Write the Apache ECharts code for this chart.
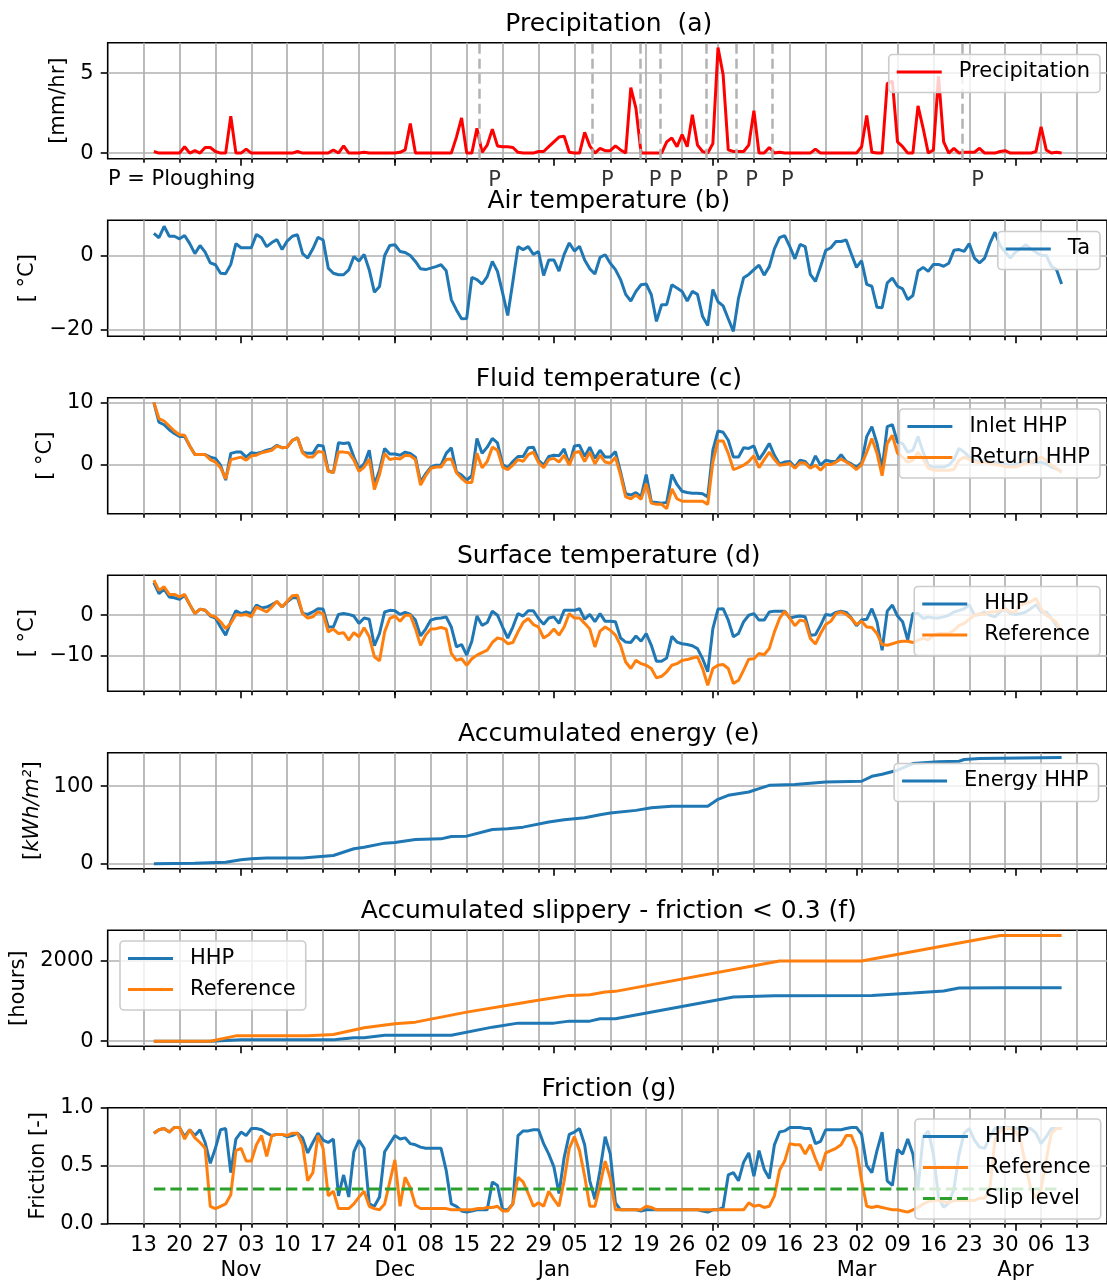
<!DOCTYPE html>
<html><head><meta charset="utf-8">
<script src="https://cdn.jsdelivr.net/npm/echarts@6/dist/echarts.min.js"></script>
<style>html,body{margin:0;padding:0;background:#fff}#c{width:1107px;height:1282px}</style>
</head><body><div id="c"></div>
<script>
// day 0 = Oct 13; daily series start on day 2 (Oct 15)
const FIRST_DAY = 2;
const weekLabels = ['13','20','27','03','10','17','24','01','08','15','22','29','05','12','19','26','02','09','16','23','02','09','16','23','30','06','13'];
const monthDays = [19,49,80,111,139,170];
const monthLabels = ['Nov','Dec','Jan','Feb','Mar','Apr'];
const ploughDays = [65.5,87.5,96.8,100.8,109.8,115.6,122.6,159.7];

const precipitation = [
0.1,0,0,0,0,0,0.4,0,0.15,0,
0.35,0.35,0.1,0,0,2.3,0,0,0.25,0,
0,0,0,0,0,0,0,0,0.1,0,
0,0,0,0,0,0.2,0,0.45,0,0,
0,0.05,0,0,0,0,0,0,0.05,0.2,
1.85,0,0,0,0,0,0,0,0,1.0,
2.2,0,0,1.55,0.05,0.5,1.5,0.45,0.4,0.4,
0.35,0.05,0,0,0,0.1,0.1,0.4,0.7,1.0,
1.05,0.05,0,0,1.3,0.45,0,0.3,0.15,0.15,
0.45,0.2,0,4.1,2.8,0,0,0,0,0,
0.7,0.95,0.4,1.15,0.4,2.4,0.5,0.1,0,0.6,
6.6,4.9,0.2,0.1,0.1,0.1,0.5,2.65,0,0,
0.35,0,0.05,0,0,0,0,0,0,0.25,
0,0,0,0,0,0,0,0,0.4,2.35,
0.05,0,0,4.35,4.5,0.7,0.4,0,0,2.95,
1.55,0,0.2,4.8,0.7,0,0.3,0,0.05,0.05,
0.05,0.3,0,0,0,0.1,0.15,0,0,0,
0,0,0.1,1.65,0.2,0,0.05,0];

const airTemp = [
6.0,4.8,7.9,5.2,5.2,4.5,5.4,3.2,0.5,2.7,
0.9,-2.0,-2.5,-4.8,-4.9,-2.4,3.2,2.1,2.1,2.1,
5.7,4.8,2.4,3.5,4.3,1.6,3.9,5.2,5.6,0.5,
-0.7,1.8,4.9,4.2,-3.4,-4.8,-5.2,-5.2,-3.9,-0.3,
-1.5,0.3,-3.9,-9.9,-8.4,0,2.7,2.9,1.1,0.8,
0,-1.6,-3.6,-3.8,-3.4,-3.0,-2.5,-4.1,-11.9,-14.7,
-17.1,-17.0,-5.9,-6.5,-7.7,-5.7,-1.6,-4.3,-10.1,-16.2,
-7.1,2.4,1.6,2.4,0.3,1.1,-5.4,-1.2,-1.2,-4.2,
0.3,3.4,1.2,2.5,-1.2,-3.6,-5.0,-0.5,0.2,-2.1,
-3.8,-6.5,-10.5,-12.3,-9.7,-7.9,-7.7,-10.6,-17.8,-13.3,
-13.3,-7.9,-8.8,-9.7,-12.3,-9.7,-10.5,-16.5,-18.9,-9.2,
-12.5,-13.6,-17.1,-20.5,-11.5,-6.0,-5.1,-3.8,-2.6,-5.3,
-3.0,1.8,4.8,5.4,2.4,-0.9,3.0,2.4,-5.1,-7.0,
-3.0,1.4,2.1,3.8,3.8,4.2,0.4,-3.2,-1.4,-7.8,
-8.3,-14.0,-14.1,-7.4,-6.1,-8.3,-9.0,-11.9,-10.8,-4.2,
-3.2,-4.3,-2.4,-2.4,-2.9,-2.1,1.4,1.6,1.1,3.2,
-0.7,-2.0,-0.7,3.2,6.3,2.7,0.9,-0.7,0.9,1.8,
2.9,1.8,0.9,0,0,-2.9,-3.8,-7.7];

const fluidInlet = [
10,6.8,6.4,5.6,5.0,4.5,4.5,3.0,1.6,1.6,
1.6,1.2,1.0,-0.1,-2.5,1.8,2.0,2.0,1.2,1.9,
1.8,2.0,2.3,2.5,3.1,2.7,2.8,3.9,4.3,2.0,
1.8,1.8,3.1,3.0,-1.0,-1.3,3.5,3.4,3.5,1.2,
-0.7,0.1,2.3,-3.3,-0.9,2.6,1.7,1.7,1.5,2.0,
1.8,1.2,-2.8,-1.5,-0.4,-0.1,-0.1,1.8,2.7,-1.2,
-1.7,-2.5,-1.8,4.2,1.8,2.8,4.2,3.5,0,-0.5,
0.5,1.3,1.3,2.7,2.8,0.7,-0.1,1.3,1.5,1.4,
2.5,0,3.0,3.1,1.3,2.8,1.0,2.3,1.2,1.2,
2.1,-1.2,-4.7,-4.9,-4.5,-5.2,-1.6,-6.0,-6.1,-6.2,
-6.1,-1.6,-3.2,-4.3,-4.5,-4.6,-4.6,-4.7,-5.2,2.3,
5.4,5.2,3.9,1.2,1.2,2.7,2.6,3.0,0.8,2.0,
3.4,1.5,0.1,0.4,0.5,-0.4,0.7,0.5,-0.5,1.4,
-0.1,0.7,0.5,0.5,1.6,0.5,0.1,-0.4,0.3,4.5,
6.1,3.4,-0.7,6.1,6.4,3.6,3.4,2.0,2.3,4.5,
2.0,-0.1,-0.4,-0.4,-0.4,-0.1,0.8,2.6,2.0,1.2,
0.7,0.4,0.9,0.3,0.4,0.1,0,-0.1,0,0.3,
0.7,0.4,0.3,0.4,0.1,-0.4,-0.7,-1.1];

const fluidReturn = [
10,7.4,7.0,6.2,5.4,4.8,4.7,3.0,1.6,1.6,
1.6,0.8,0.4,-0.5,-2.3,0.8,1.0,1.2,0.7,1.4,
1.5,1.9,2.1,2.3,3.0,2.7,2.8,3.9,4.3,1.9,
1.2,1.2,2.1,2.0,-1.1,-1.3,2.0,2.0,1.9,0.7,
-1.1,-0.4,0.9,-4.0,-1.6,1.8,0.8,1.0,0.9,1.5,
1.4,0.8,-3.3,-1.8,-0.6,-0.4,-0.4,0.8,0.9,-1.3,
-2.2,-2.9,-2.9,1.8,-0.5,0.5,2.8,2.3,-0.4,-0.8,
-0.1,0.8,0.5,1.6,2.0,0.3,-0.5,0.8,1.0,0.4,
1.5,-0.1,1.9,2.1,0.5,2.0,0.1,1.5,0.4,0.2,
1.2,-1.7,-5.2,-5.5,-4.9,-5.6,-3.1,-6.2,-6.4,-6.4,
-7.1,-3.9,-5.5,-5.9,-5.9,-5.9,-5.9,-5.9,-6.4,0.4,
3.8,3.8,1.8,-0.8,-0.5,-0.1,0.5,1.4,-0.5,0.8,
2.0,0.8,-0.1,0,0.2,-0.6,0.3,0.2,-0.6,-0.1,
-0.9,0,0,0.4,0.9,0.4,-0.1,-0.8,0,2.0,
4.2,1.8,-1.8,3.4,4.7,1.8,1.2,0.4,0.7,2.0,
0.9,-0.6,-0.9,-0.9,-0.9,-0.9,-0.8,0.7,1.2,0.8,
0.5,0.3,0.4,0.2,0,-0.1,-0.3,-0.4,-0.4,-0.1,
0.2,0.3,0.8,1.2,0.7,-0.1,-0.6,-1.3];

const surfaceHHP = [
8.0,5.3,6.4,4.5,4.3,3.9,4.9,2.6,0.4,1.5,
1.2,-0.2,-0.7,-2.9,-4.9,-1.6,1.1,0.4,0.8,0.4,
2.5,1.8,2.0,2.6,3.3,2.0,3.3,4.3,4.3,0.4,
0.2,0.8,1.6,1.5,-2.9,-2.9,0.2,0.4,0.2,-0.2,
-2.0,-0.7,-1.0,-7.5,-4.5,0.8,1.2,1.1,0.2,0.7,
0.2,-1.2,-5.1,-3.4,-1.2,-0.8,-0.7,-0.4,-2.9,-7.8,
-7.2,-9.8,-6.4,-0.2,-2.5,-1.8,1.0,0,-2.9,-5.6,
-2.9,0.4,-0.2,1.1,1.1,-0.8,-2.2,-0.7,-0.4,-2.0,
1.2,1.2,1.2,1.6,-1.0,0.2,-1.6,0.4,-1.5,-1.5,
-1.6,-5.6,-6.6,-6.7,-5.1,-6.4,-4.5,-7.4,-11.3,-11.3,
-10.5,-5.2,-6.6,-7.0,-7.2,-7.5,-8.2,-10.7,-13.9,-3.3,
1.5,1.6,-1.2,-5.3,-4.5,-1.6,0,0.4,-1.2,-1.2,
0.8,1.0,1.0,1.0,-0.7,-0.4,-0.2,-0.4,-4.9,-4.8,
-2.5,0.2,0,0.7,1.0,0.7,-0.7,-2.6,-1.2,-1.0,
1.6,-1.6,-8.6,1.0,2.5,-0.2,-1.6,-6.1,0.4,0.4,
-0.8,-0.4,-0.7,-0.7,-0.4,0,0.8,1.2,1.6,2.5,
0,0.2,0.8,0,-0.4,0.8,1.6,0.4,0.2,0.4,
0.8,1.6,2.6,0.8,0.8,-0.8,-2.5,-4.5];

const surfaceRef = [
8.6,6.1,7.0,5.1,5.1,4.5,5.1,2.6,0.4,1.5,
1.2,0,-0.4,-1.6,-3.3,-2.0,0.2,0,0.2,-0.4,
2.0,1.4,0.8,2.0,3.4,2.0,3.4,4.8,4.9,0.4,
-0.7,-0.4,0.8,0.4,-4.1,-3.4,-4.5,-4.3,-6.1,-4.3,
-5.3,-3.1,-5.3,-10.2,-11.2,-4.1,-0.8,-0.2,-1.5,0,
0,-3.3,-7.4,-4.9,-3.4,-3.3,-3.0,-3.4,-9.4,-11.1,
-10.7,-12.3,-10.7,-9.8,-9.2,-8.6,-6.7,-5.6,-5.9,-7.0,
-6.7,-4.1,-1.8,-0.8,-2.3,-2.9,-5.6,-4.8,-3.4,-4.9,
-2.9,0.4,-0.7,-0.7,-2.0,-3.4,-7.8,-3.9,-2.9,-3.7,
-4.9,-7.4,-11.5,-13.1,-11.1,-11.9,-12.3,-13.1,-15.4,-15.0,
-13.9,-12.3,-11.9,-11.1,-10.9,-10.5,-10.2,-13.1,-17.2,-13.1,
-12.3,-12.1,-13.1,-16.8,-16.0,-13.5,-10.8,-10.7,-9.4,-9.7,
-8.2,-4.1,-0.8,1.0,-0.7,-2.6,-1.2,-1.5,-5.7,-7.1,
-4.5,-2.3,-1.5,0.4,0.8,0.2,-0.8,-2.3,-1.5,-2.9,
-3.0,-4.5,-7.2,-7.4,-7.0,-6.6,-6.4,-6.4,-6.7,-6.1,
-5.7,-6.1,-4.9,-4.5,-4.5,-4.5,-3.7,-2.5,-2.0,-1.0,
0,0.4,0.2,0.8,0.8,1.2,1.6,0.8,0.8,2.5,
2.9,3.3,4.1,1.6,0,-0.8,-1.8,-4.1];

const energyDays = [2,10,16,19,21,24,31,37,41,43,47,49,53,58,60,63,68,71,74,79,82,86,89,91,96,99,103,110,112,114,118,120,122,127,133,140,142,144,147,150,155,159,160,163,171,179];
const energyHHP  = [0,0.6,1.9,5,6.3,7.2,7.2,10.6,19.2,21.3,26.5,27.3,31.2,32,35.1,35.5,44.1,45,47.1,53.6,56.6,59.2,63.1,65.2,68.7,72.1,73.9,73.9,82.9,88.1,92.4,96.7,101,101.9,105.3,106.2,112.6,115.2,120.4,129,131.2,132,134.2,135.4,136.3,136.7];

const slipHHPDays = [2,13,19,37,38,41,43,47,60,68,73,80,83,87,89,92,115,123,142,150,156,159,167,179];
const slipHHP     = [0,0,33,33,50,83,83,150,150,350,450,450,500,500,558,558,1100,1133,1142,1200,1250,1325,1333,1333];
const slipRefDays = [2,13,18,32,37,43,49,53,63,74,76,83,87,90,92,124,140,167,179];
const slipRef     = [0,0,133,133,167,333,433,475,725,958,1000,1142,1158,1225,1242,2000,2000,2633,2633];

const frictionHHP = [
0.78,0.81,0.82,0.79,0.83,0.83,0.75,0.81,0.76,0.81,
0.70,0.52,0.65,0.81,0.82,0.44,0.73,0.79,0.76,0.82,
0.82,0.81,0.78,0.76,0.77,0.77,0.75,0.76,0.78,0.74,
0.61,0.70,0.78,0.72,0.70,0.73,0.24,0.42,0.23,0.62,
0.72,0.65,0.17,0.15,0.23,0.62,0.69,0.76,0.73,0.74,
0.69,0.68,0.66,0.65,0.65,0.65,0.65,0.46,0.17,0.15,
0.11,0.10,0.11,0.12,0.12,0.12,0.36,0.33,0.12,0.12,
0.17,0.76,0.80,0.80,0.81,0.81,0.69,0.60,0.49,0.26,
0.57,0.77,0.79,0.82,0.68,0.37,0.21,0.46,0.75,0.60,
0.18,0.12,0.12,0.12,0.12,0.11,0.12,0.12,0.12,0.12,
0.12,0.12,0.12,0.12,0.12,0.12,0.12,0.11,0.10,0.12,
0.12,0.14,0.42,0.44,0.37,0.53,0.61,0.41,0.63,0.47,
0.39,0.68,0.79,0.80,0.83,0.83,0.83,0.82,0.82,0.69,
0.71,0.81,0.81,0.81,0.81,0.82,0.83,0.83,0.77,0.50,
0.44,0.63,0.79,0.37,0.33,0.64,0.60,0.73,0.60,0.31,
0.75,0.80,0.60,0.23,0.14,0.18,0.30,0.60,0.78,0.82,
0.72,0.66,0.65,0.75,0.82,0.83,0.83,0.83,0.82,0.82,
0.82,0.82,0.78,0.69,0.75,0.82,0.82,0.82];

const frictionRef = [
0.78,0.81,0.82,0.79,0.83,0.83,0.73,0.81,0.74,0.70,
0.65,0.15,0.13,0.15,0.17,0.25,0.63,0.65,0.54,0.54,
0.68,0.76,0.58,0.76,0.77,0.77,0.76,0.78,0.78,0.68,
0.37,0.44,0.76,0.65,0.24,0.28,0.13,0.13,0.13,0.17,
0.23,0.28,0.15,0.13,0.12,0.17,0.36,0.55,0.15,0.40,
0.31,0.16,0.13,0.13,0.13,0.13,0.13,0.13,0.12,0.12,
0.12,0.12,0.12,0.13,0.13,0.14,0.14,0.15,0.11,0.11,
0.17,0.40,0.36,0.26,0.15,0.18,0.15,0.28,0.21,0.15,
0.37,0.65,0.75,0.63,0.41,0.15,0.15,0.33,0.54,0.39,
0.12,0.12,0.12,0.12,0.12,0.12,0.15,0.14,0.12,0.12,
0.12,0.12,0.12,0.12,0.12,0.12,0.12,0.12,0.12,0.12,
0.12,0.12,0.12,0.12,0.12,0.12,0.18,0.15,0.16,0.14,
0.15,0.24,0.46,0.54,0.69,0.68,0.68,0.60,0.68,0.56,
0.46,0.61,0.63,0.65,0.68,0.76,0.76,0.65,0.37,0.15,
0.14,0.15,0.14,0.13,0.12,0.12,0.11,0.10,0.12,0.14,
0.17,0.19,0.20,0.20,0.19,0.18,0.20,0.20,0.20,0.20,
0.20,0.22,0.22,0.30,0.72,0.80,0.82,0.82,0.80,0.72,
0.50,0.30,0.22,0.30,0.55,0.78,0.82,0.82];

const SLIP_LEVEL = 0.3;

// y-axis tick values per panel
const yTicksA = [0,5], yTicksB = [-20,0], yTicksC = [0,10], yTicksD = [-10,0], yTicksE = [0,100], yTicksF = [0,2000], yTicksG = [0,0.5,1];

// ---------------- layout / styling ----------------
const FONT = 'DejaVu Sans';
const BLUE = '#1f77b4', ORANGE = '#ff7f0e', GREEN = '#2ca02c', RED = '#ff0000';
const GRID_LEFT = 107.7, GRID_WIDTH = 1002.1, GRID_TOP0 = 42.7, GRID_STEP = 177.5, GRID_H = 116;
const X_MIN = -7, X_MAX = 187.85;
const GRIDC = '#b0b0b0';

const daily = vals => vals.map((v, i) => [FIRST_DAY + i, v]);
const pairs = (ds, vs) => ds.map((d, i) => [d, vs[i]]);
const weekDays = weekLabels.map((_, i) => i * 7);
const minus = s => String(s).replace('-', '\u2212');

const grids = [], xAxes = [], yAxes = [], series = [], legends = [], graphics = [];
const titles = ['Precipitation  (a)','Air temperature (b)','Fluid temperature (c)','Surface temperature (d)','Accumulated energy (e)','Accumulated slippery - friction < 0.3 (f)','Friction (g)'];

for (let i = 0; i < 7; i++) {
  const top = GRID_TOP0 + GRID_STEP * i;
  grids.push({left: GRID_LEFT, top: top, width: GRID_WIDTH, height: GRID_H, show: true, borderColor: '#000', borderWidth: 1.6, backgroundColor: 'transparent'});
  xAxes.push({
    type: 'value', gridIndex: i, position: 'bottom', min: X_MIN, max: X_MAX, interval: 7,
    axisLine: {show: false, onZero: false},
    splitLine: {show: true, lineStyle: {color: GRIDC, width: 1.7}},
    axisTick: {show: true, customValues: weekDays, length: 4, lineStyle: {color: '#000', width: 1.6}},
    axisLabel: {show: i === 6, customValues: weekDays, hideOverlap: false, margin: 11, fontSize: 21, color: '#000', fontFamily: FONT,
      formatter: v => weekLabels[Math.round(v / 7)]}
  });
  xAxes.push({
    type: 'value', gridIndex: i, position: 'bottom', offset: 0, min: X_MIN, max: X_MAX,
    axisLine: {show: false, onZero: false}, splitLine: {show: false},
    axisTick: {show: true, customValues: monthDays, length: 7, lineStyle: {color: '#000', width: 1.6}},
    axisLabel: {show: i === 6, customValues: monthDays, hideOverlap: false, margin: 36, fontSize: 21, color: '#000', fontFamily: FONT,
      formatter: v => monthLabels[monthDays.indexOf(Math.round(v))]}
  });
  graphics.push({type: 'text', x: 608.8, y: top - 18.5, style: {text: titles[i], font: '25px "DejaVu Sans"', fill: '#000', align: 'center', verticalAlign: 'middle'}});
}

function yAx(i, min, max, step, ticks, name, gap, fmt, extra) {
  return Object.assign({
    type: 'value', gridIndex: i, position: 'left', min: min, max: max, minInterval: step, maxInterval: step,
    axisLine: {show: false, onZero: false},
    splitLine: {show: true, lineStyle: {color: GRIDC, width: 1.7}},
    axisTick: {show: true, customValues: ticks, length: 7, lineStyle: {color: '#000', width: 1.6}},
    axisLabel: {customValues: ticks, hideOverlap: false, margin: 14, fontSize: 21, color: '#000', fontFamily: FONT, formatter: fmt || (v => minus(v))},
    name: name, nameLocation: 'middle', nameRotate: 90, nameGap: gap,
    nameTextStyle: {fontSize: 21, color: '#000', fontFamily: FONT}
  }, extra || {});
}
yAxes.push(yAx(0, -0.35, 6.9, 5, yTicksA, '[mm/hr]', 28.5));
yAxes.push(yAx(1, -21.8, 9.54, 20, yTicksB, '[ °C]', 61.5));
yAxes.push(yAx(2, -7.9, 10.75, 10, yTicksC, '[ °C]', 45.5));
yAxes.push(yAx(3, -18.67, 9.83, 10, yTicksD, '[ °C]', 61.5));
yAxes.push(yAx(4, -6.44, 143, 100, yTicksE, '{n|[}{i|kWh/m²}{n|]}', 51.5, null, {
  nameTextStyle: {fontSize: 21, color: '#000', fontFamily: FONT, rich: {n: {fontSize: 21, fontFamily: FONT, color: '#000'}, i: {fontSize: 21, fontFamily: FONT, fontStyle: 'italic', color: '#000'}}}
}));
yAxes.push(yAx(5, -125, 2767, 2000, yTicksF, '[hours]', 67.5));
yAxes.push(yAx(6, 0, 1, 0.5, yTicksG, 'Friction [-]', 51.5, v => v.toFixed(1), {
  splitLine: {show: true, showMinLine: false, showMaxLine: false, lineStyle: {color: GRIDC, width: 1.7}}
}));

function line(name, grid, data, color, extra) {
  return Object.assign({
    type: 'line', name: name, xAxisIndex: grid * 2, yAxisIndex: grid, data: data,
    symbol: 'none', showSymbol: false, lineStyle: {color: color, width: 3}, itemStyle: {color: color},
    z: 3, animation: false
  }, extra || {});
}

series.push(line('Precipitation', 0, daily(precipitation), RED, {
  markLine: {silent: true, symbol: ['none', 'none'], label: {show: false}, animation: false,
    lineStyle: {color: '#b3b3b3', width: 2.5, type: [10, 5]},
    data: ploughDays.map(d => ({xAxis: d}))}
}));
series.push({
  type: 'scatter', xAxisIndex: 0, yAxisIndex: 0, clip: false, silent: true, animation: false,
  data: ploughDays.map(d => [d, -0.35]), symbolSize: 1, itemStyle: {color: 'rgba(0,0,0,0)'},
  label: {show: true, formatter: 'P', position: 'bottom', distance: 11, offset: [15, 0], fontSize: 21, color: '#000', fontFamily: FONT}
});
series.push(line('Ta', 1, daily(airTemp), BLUE));
series.push(line('Inlet HHP', 2, daily(fluidInlet), BLUE));
series.push(line('Return HHP', 2, daily(fluidReturn), ORANGE));
series.push(line('HHP', 3, daily(surfaceHHP), BLUE));
series.push(line('Reference', 3, daily(surfaceRef), ORANGE));
series.push(line('Energy HHP', 4, pairs(energyDays, energyHHP), BLUE));
series.push(line('HHP', 5, pairs(slipHHPDays, slipHHP), BLUE));
series.push(line('Reference', 5, pairs(slipRefDays, slipRef), ORANGE));
series.push(line('HHP', 6, daily(frictionHHP), BLUE));
series.push(line('Reference', 6, daily(frictionRef), ORANGE));
const LAST_DAY = FIRST_DAY + frictionHHP.length - 1;
series.push(line('Slip level', 6, [[FIRST_DAY, SLIP_LEVEL], [LAST_DAY, SLIP_LEVEL]], GREEN, {lineStyle: {color: GREEN, width: 3, type: [11.5, 5]}}));

const DASH_ICON = 'path://M0,0h12v3h-12z M17,0h12v3h-12z M34,0h11v3h-11z';
function legend(names, pos) {
  return Object.assign({
    orient: 'vertical', align: 'left', selectedMode: false,
    data: names.map(n => ({name: n, icon: n === 'Slip level' ? DASH_ICON : 'rect'})),
    itemWidth: 45, itemHeight: 3, itemGap: 6, padding: [5, 10, 8, 8],
    backgroundColor: 'rgba(255,255,255,0.8)', borderColor: '#cccccc', borderWidth: 1.6, borderRadius: 4,
    textStyle: {fontSize: 21, color: '#000', fontFamily: FONT, lineHeight: 25, padding: [0, 0, 0, 12]},
    z: 10
  }, pos);
}
legends.push(legend(['Precipitation'], {top: 54.5, right: 7}));
legends.push(legend(['Ta'], {top: 231.5, right: 7}));
legends.push(legend(['Inlet HHP', 'Return HHP'], {top: 409, right: 7}));
legends.push(legend(['HHP', 'Reference'], {top: 586.5, right: 7}));
legends.push(legend(['Energy HHP'], {top: 763.5, right: 8.5}));
legends.push(legend(['HHP', 'Reference'], {top: 941, left: 120}));
legends.push(legend(['HHP', 'Reference', 'Slip level'], {top: 1119, right: 6.3}));

graphics.push({type: 'text', x: 108, y: 180, style: {text: 'P = Ploughing', font: '21px "DejaVu Sans"', fill: '#000', align: 'left', verticalAlign: 'middle'}});

const chart = echarts.init(document.getElementById('c'), null, {renderer: 'canvas'});
chart.setOption({
  backgroundColor: '#fff', animation: false,
  textStyle: {fontFamily: FONT},
  grid: grids, xAxis: xAxes, yAxis: yAxes, series: series, legend: legends, graphic: graphics
});
</script></body></html>
